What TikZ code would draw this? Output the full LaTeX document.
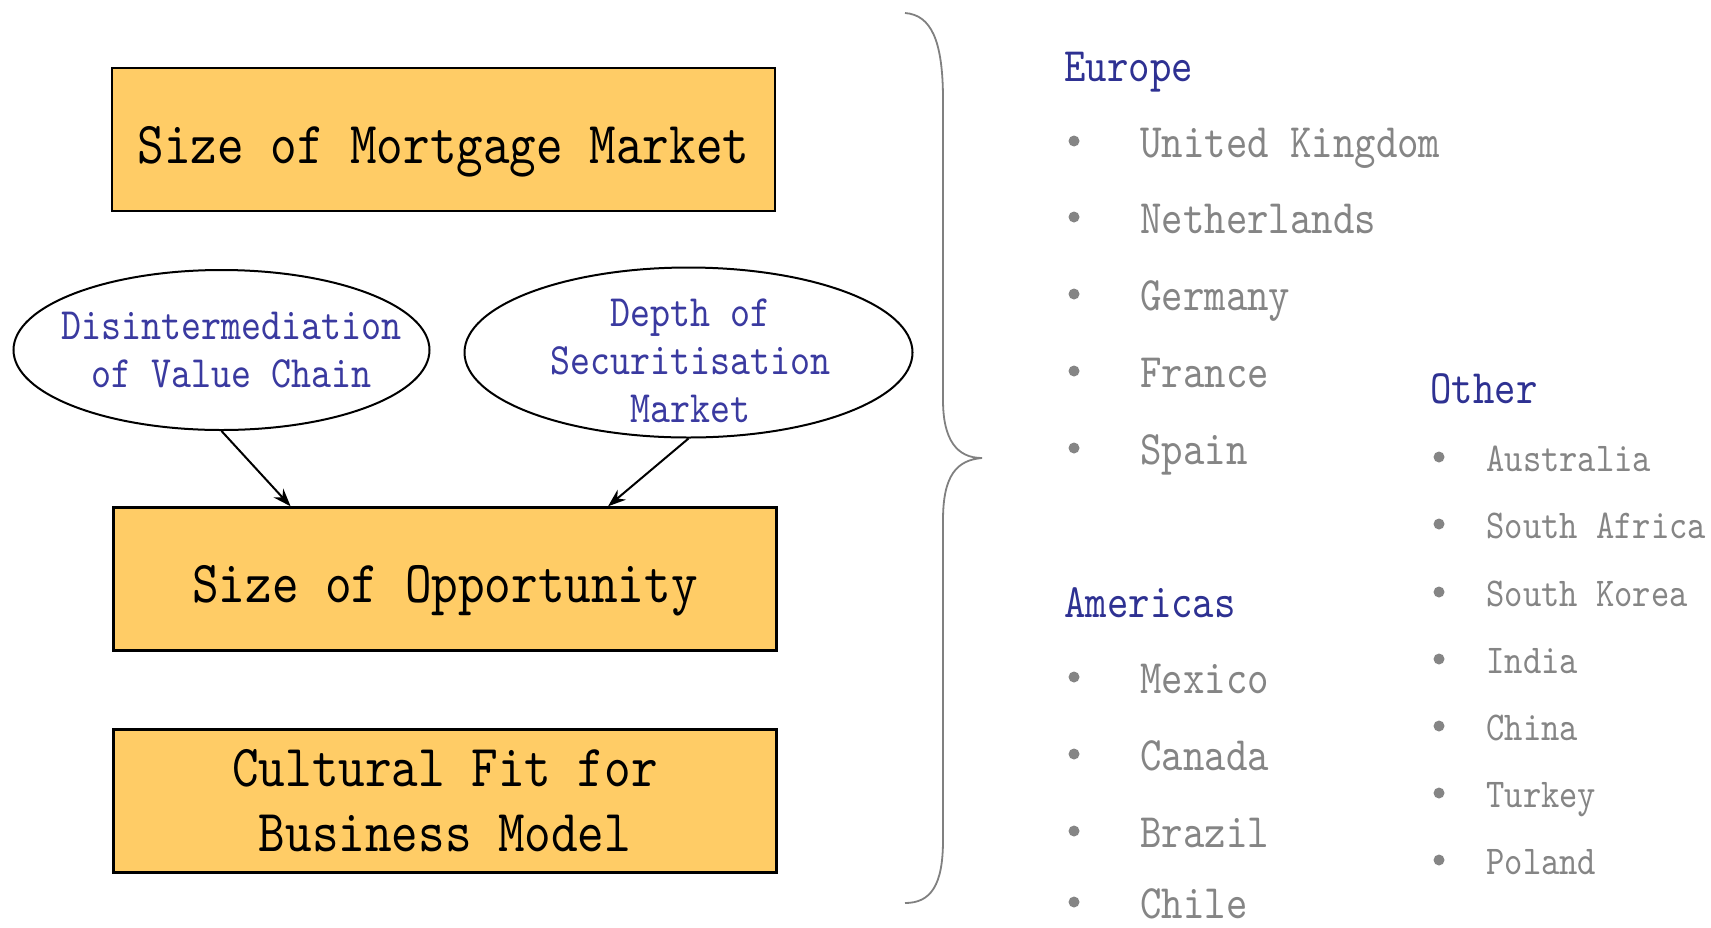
\documentclass[tikz,border=0pt]{standalone}
\usepackage{fontspec}
\newfontfamily\lmm[FakeStretch=0.85]{lmmono10-regular.otf}
\usetikzlibrary{arrows.meta,shapes.geometric,calc}
\definecolor{boxfill}{HTML}{FFCC66}
\definecolor{ovaltext}{HTML}{3A3AA0}
\definecolor{heading}{HTML}{2E3192}
\definecolor{itemgray}{HTML}{858585}
\begin{document}
\begin{tikzpicture}[x=0.5pt,y=-0.5pt,
  factor/.style={draw=black, line width=1.2pt, fill=boxfill, minimum width=331.5pt,
    minimum height=71.5pt, inner sep=0pt, align=center,
    font=\lmm\fontsize{29.8}{32.5}\selectfont},
  oneline/.style={text height=23.5pt, text depth=0pt},
  oval/.style={draw=black, line width=1pt, ellipse, inner sep=0pt},
  ovaltxt/.style={align=center, text=ovaltext, inner sep=0pt,
    font=\lmm\fontsize{22.4}{24}\selectfont},
  region/.style={anchor=base west, inner sep=0pt, text=heading,
    font=\lmm\fontsize{24}{24}\selectfont},
  place/.style={anchor=base west, inner sep=0pt, text=itemgray,
    font=\lmm\fontsize{24}{24}\selectfont},
  smallplace/.style={place, font=\lmm\fontsize{20.5}{20.5}\selectfont},
  dot/.style={circle, fill=itemgray, inner sep=0pt, minimum size=5.5pt},
  link/.style={-{Stealth[length=9pt,width=6.5pt]}, line width=1pt},
  brace/.style={draw=gray, line width=0.9pt}]

\useasboundingbox (0,0) rectangle (1711,927);

% factor boxes
\node[factor, oneline] (b1) at (443.5,139.5) {Size of Mortgage Market};
\node[factor, oneline] (b2) at (445,579) {Size of Opportunity};
\node[factor] (b3) at (445,801) {Cultural Fit for\\Business Model};

% influencing factors
\node[oval, minimum width=208pt, minimum height=80pt] (o1) at (221.5,350) {};
\node[ovaltxt] (t1) at ($(o1.center)+(10,0)$) {Disintermediation\\of Value Chain};
\node[oval, minimum width=224pt, minimum height=85pt] (o2) at (688.5,352.5) {};
\node[ovaltxt] (t2) at ($(o2.center)+(2,8)$) {Depth of\\Securitisation\\Market};

\draw[link] (o1.south) -- ($(b2.north west)!0.268!(b2.north east)$);
\draw[link] (o2.south) -- ($(b2.north west)!0.745!(b2.north east)$);

% curly brace
\draw[brace] (905,13) .. controls (931,15) and (943,40) .. (943,100)
  -- (943,400) .. controls (943,440) and (957,458) .. (982,458)
  .. controls (957,460) and (943,475) .. (943,520)
  -- (943,840) .. controls (943,885) and (931,903) .. (905,903);

% regions
\node[region] (eu) at (1064,81) {Europe};
\foreach \t/\y [count=\i] in {United Kingdom/157, Netherlands/233, Germany/310, France/387, Spain/464}{
  \node[dot] (eudot\i) at (1074,\y-16) {};
  \node[place] (eu\i) at (1140,\y) {\t};
}
\node[region] (am) at (1064,617) {Americas};
\foreach \t/\y [count=\i] in {Mexico/693, Canada/770, Brazil/847, Chile/918}{
  \node[dot] (amdot\i) at (1074,\y-16) {};
  \node[place] (am\i) at (1140,\y) {\t};
}
\node[region] (ot) at (1430,403) {Other};
\foreach \t/\y [count=\i] in {Australia/471, South Africa/538, South Korea/606, India/673, China/740, Turkey/807, Poland/874}{
  \node[dot] (otdot\i) at (1439,\y-14) {};
  \node[smallplace] (ot\i) at (1486,\y) {\t};
}
\end{tikzpicture}
\end{document}
